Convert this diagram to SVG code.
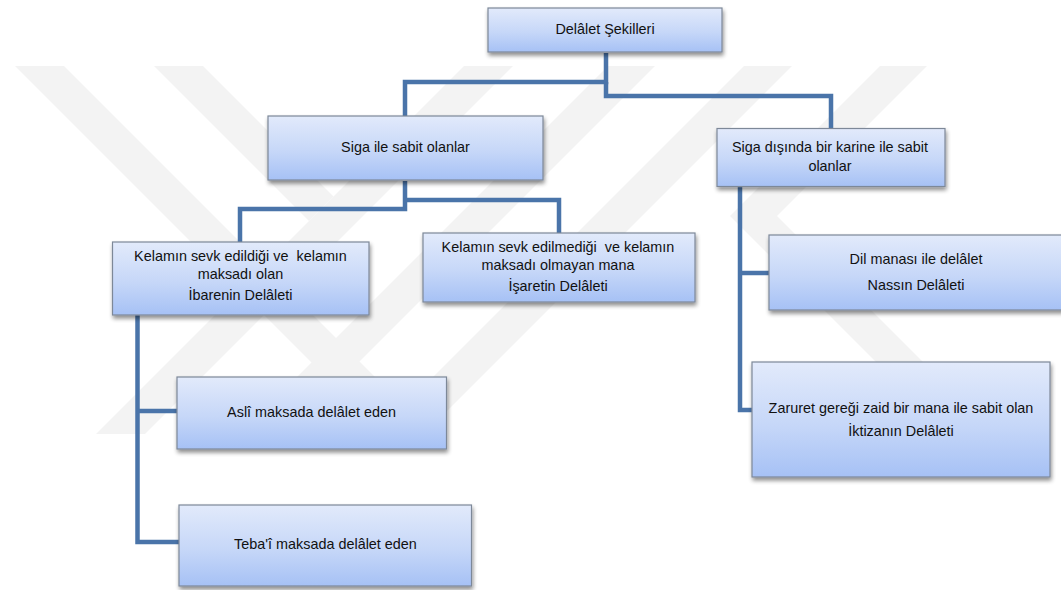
<svg xmlns="http://www.w3.org/2000/svg" width="1061" height="590" viewBox="0 0 1061 590">
  <defs>
    <linearGradient id="boxGrad" x1="0" y1="0" x2="0" y2="1">
      <stop offset="0" stop-color="#e2eafb"/>
      <stop offset="0.55" stop-color="#c6d7f8"/>
      <stop offset="1" stop-color="#a6c1f5"/>
    </linearGradient>
    <filter id="shadow" x="-10%" y="-10%" width="125%" height="140%">
      <feGaussianBlur in="SourceAlpha" stdDeviation="2"/>
      <feOffset dx="1" dy="3" result="b"/>
      <feComponentTransfer><feFuncA type="linear" slope="0.45"/></feComponentTransfer>
      <feMerge><feMergeNode/><feMergeNode in="SourceGraphic"/></feMerge>
    </filter>
  </defs>
  <style>
    .box { fill: url(#boxGrad); stroke: #7d8898; stroke-width: 1.2; filter: url(#shadow); }
    .lbl { font-family: "Liberation Sans", Arial, sans-serif; font-size: 14.4px; fill: #111; text-anchor: middle; }
    .conn { fill: none; stroke: #4a74a9; stroke-width: 4.5; stroke-linejoin: miter; }
    .wm { fill: #f3f3f3; }
  </style>
  <rect width="1061" height="590" fill="#ffffff"/>
  <g id="watermark">
    <polygon class="wm" points="15,66 64,66 432,434 383,434"/>
    <polygon class="wm" points="464,66 513,66 145,434 96,434"/>
    <polygon class="wm" points="154,66 203,66 333.5,196.5 309,221"/>
    <polygon class="wm" points="608,66 655,66 287,434 240,434"/>
    <polygon class="wm" points="744,66 792,66 424,434 376,434"/>
    <polygon class="wm" points="880,66 927,66 777,216 995,434 948,434 730,216"/>
  </g>
  <g id="connectors">
    <path class="conn" d="M405,116 V82 H606 V53"/>
    <path class="conn" d="M606,82 V96 H831 V128"/>
    <path class="conn" d="M405,181 V209 H240 V242"/>
    <path class="conn" d="M405,200 H559 V233"/>
    <path class="conn" d="M740,187 V410 H752"/>
    <path class="conn" d="M740,273 H769"/>
    <path class="conn" d="M137.5,315 V542 H179"/>
    <path class="conn" d="M137.5,411 H177"/>
  </g>
  <g id="n-root">
    <rect class="box" x="488" y="8" width="234" height="44"/>
    <text class="lbl" x="605" y="34">Delâlet Şekilleri</text>
  </g>
  <g id="n-siga">
    <rect class="box" x="268" y="116" width="275" height="64"/>
    <text class="lbl" x="405.5" y="152">Siga ile sabit olanlar</text>
  </g>
  <g id="n-siga-disinda">
    <rect class="box" x="717" y="128.5" width="228" height="58"/>
    <text class="lbl" x="830" y="152">Siga dışında bir karine ile sabit</text>
    <text class="lbl" x="830" y="171">olanlar</text>
  </g>
  <g id="n-ibare">
    <rect class="box" x="112.5" y="242" width="256.5" height="73"/>
    <text class="lbl" x="240.5" y="261" xml:space="preserve">Kelamın sevk edildiği ve  kelamın</text>
    <text class="lbl" x="240.5" y="279">maksadı olan</text>
    <text class="lbl" x="240.5" y="300">İbarenin Delâleti</text>
  </g>
  <g id="n-isaret">
    <rect class="box" x="423" y="233" width="272" height="69"/>
    <text class="lbl" x="558" y="252" xml:space="preserve">Kelamın sevk edilmediği  ve kelamın</text>
    <text class="lbl" x="558" y="270">maksadı olmayan mana</text>
    <text class="lbl" x="558" y="291">İşaretin Delâleti</text>
  </g>
  <g id="n-nass">
    <rect class="box" x="769" y="235" width="294" height="75"/>
    <text class="lbl" x="916" y="264">Dil manası ile delâlet</text>
    <text class="lbl" x="916" y="290">Nassın Delâleti</text>
  </g>
  <g id="n-iktiza">
    <rect class="box" x="752" y="362" width="298" height="115"/>
    <text class="lbl" x="901" y="413">Zaruret gereği zaid bir mana ile sabit olan</text>
    <text class="lbl" x="901" y="436">İktizanın Delâleti</text>
  </g>
  <g id="n-asli">
    <rect class="box" x="177" y="377" width="269.5" height="72"/>
    <text class="lbl" x="311.5" y="417">Aslî maksada delâlet eden</text>
  </g>
  <g id="n-tebai">
    <rect class="box" x="179" y="505" width="292.5" height="81"/>
    <text class="lbl" x="325.5" y="549">Teba'î maksada delâlet eden</text>
  </g>
</svg>
